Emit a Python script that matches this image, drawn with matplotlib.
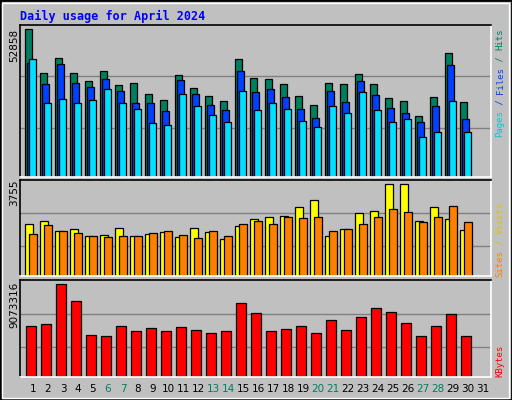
import matplotlib
matplotlib.use("Agg")
import matplotlib.pyplot as plt
import numpy as np

days = list(range(1, 32))
hits = [52858,37076,42458,37076,34206,37794,32770,33488,29541,27388,36358,31694,28824,27030,42099,
        35282,34923,33129,28824,25953,33488,33129,36717,33129,28106,27030,22006,28465,44252,26671]
files = [40664,33129,40305,33488,32053,34923,30618,26312,26312,23800,34564,29541,25953,24159,37794,
         30259,31335,28465,24518,21289,30618,26671,34206,29182,24877,23083,19854,25594,39946,20930]
pages = [42099,26312,27747,26312,27388,31335,26312,24518,19495,18777,29541,25594,22365,19854,30618,
         24159,26312,24518,20212,18060,25594,23083,30259,24159,19854,20930,14472,16266,27030,16266]
visits = [2116,2239,1829,1911,1624,1665,1952,1624,1706,1788,1583,1952,1788,1502,2034,
          2321,2402,2443,2812,3099,1624,1911,2566,2648,3755,3755,2239,2812,2321,1870]
sites = [1706,2075,1829,1747,1624,1583,1624,1624,1747,1829,1665,1542,1829,1624,2116,
         2239,2116,2402,2361,2402,1829,1911,2116,2402,2730,2607,2198,2402,2853,2198]
kbytes = [5000000,5199000,9073316,7384000,4106000,4007000,5000000,4504000,4802000,4504000,
          4901000,4603000,4305000,4504000,7186000,6292000,4504000,4702000,5000000,4305000,
          5596000,4603000,5894000,6689000,6391000,5298000,4007000,5000000,6192000,4007000]
weekends = [6, 7, 13, 14, 20, 21, 27, 28]

W, H = 512, 400
fig = plt.figure(figsize=(W/100, H/100), dpi=100)
fig.patch.set_facecolor("#C0C0C0")
mono = "DejaVu Sans Mono"

fig.add_artist(plt.Rectangle((0, 0), 1, 1, transform=fig.transFigure, fill=False, ec="black", lw=2))
fig.add_artist(plt.Rectangle((2/W, 2/H), 1-5/W, 1-5/H, transform=fig.transFigure, fill=False, ec="white", lw=1))

def ax_at(x0, y0, x1, y1):
    ax = fig.add_axes([x0/W, 1-y1/H, (x1-x0)/W, (y1-y0)/H])
    ax.set_facecolor("#C0C0C0")
    ax.set_xlim(0.13, 31.53)
    ax.set_xticks([]); ax.set_yticks([])
    for s in ["left", "top"]:
        ax.spines[s].set_color("black")
    for s in ["right", "bottom"]:
        ax.spines[s].set_color("white")
    for s in ax.spines.values():
        s.set_linewidth(1.2)
    return ax

x = np.arange(1, len(hits)+1)
kw = dict(edgecolor="black", linewidth=0.9, align="edge")

ax1 = ax_at(20, 25, 491, 177)
mx = max(hits)
ax1.set_ylim(0, mx*455/442)
for f in (0.335, 0.681):
    ax1.axhline(mx*f, color="#808080", lw=1, zorder=0)
ax1.bar(x-0.53, hits, 0.47, color="#007F5F", **kw)
ax1.bar(x-0.40, files, 0.47, color="#0040FF", **kw)
ax1.bar(x-0.27, pages, 0.47, color="#00E0FF", **kw)

ax2 = ax_at(20, 180, 491, 276)
mx2 = max(visits)
ax2.set_ylim(0, mx2*288/275)
for f in (0.327, 0.684):
    ax2.axhline(mx2*f, color="#808080", lw=1, zorder=0)
ax2.bar(x-0.53, visits, 0.5, color="#FFFF00", **kw)
ax2.bar(x-0.27, sites, 0.5, color="#FF8000", **kw)

ax3 = ax_at(20, 280, 491, 377)
mx3 = max(kbytes)
ax3.set_ylim(0, mx3*286/274)
for f in (0.32, 0.68):
    ax3.axhline(mx3*f, color="#808080", lw=1, zorder=0)
ax3.bar(x-0.47, kbytes, 0.67, color="#FF0000", **kw)

fig.text(20/W, 1-16/H, "Daily usage for April 2024", color="#0000FF", family=mono,
         weight="bold", fontsize=8.5, va="center", ha="left")

for yy, lab in [(29, "52858"), (180, "3755"), (282, "9073316")]:
    fig.text(14/W, 1-yy/H, lab, rotation=90, fontsize=7.5, va="top", ha="center", family="DejaVu Sans")

def stacked(xp, ybot, parts):
    y = ybot
    for txt, col in parts:
        fig.text(xp/W, 1-y/H, txt, rotation=90, color=col, family=mono, fontsize=6.5,
                 va="bottom", ha="center")
        y -= len(txt)*5.42
stacked(500, 137, [("Pages", "#00C8E0"), (" / ", "#0040FF"), ("Files", "#0040FF"),
                   (" / ", "#007F5F"), ("Hits", "#007F5F")])
stacked(500, 277, [("Sites", "#FF8000"), (" / ", "#E0C000"), ("Visits", "#E0C000")])
stacked(500, 377, [("KBytes", "#FF0000")])

for d in days:
    col = "#007F5F" if d in weekends else "black"
    fig.text((33+15*(d-1))/W, 1-389/H, str(d), color=col, fontsize=7.5, ha="center", va="center")

fig.savefig("out.png", dpi=100, facecolor=fig.get_facecolor())
